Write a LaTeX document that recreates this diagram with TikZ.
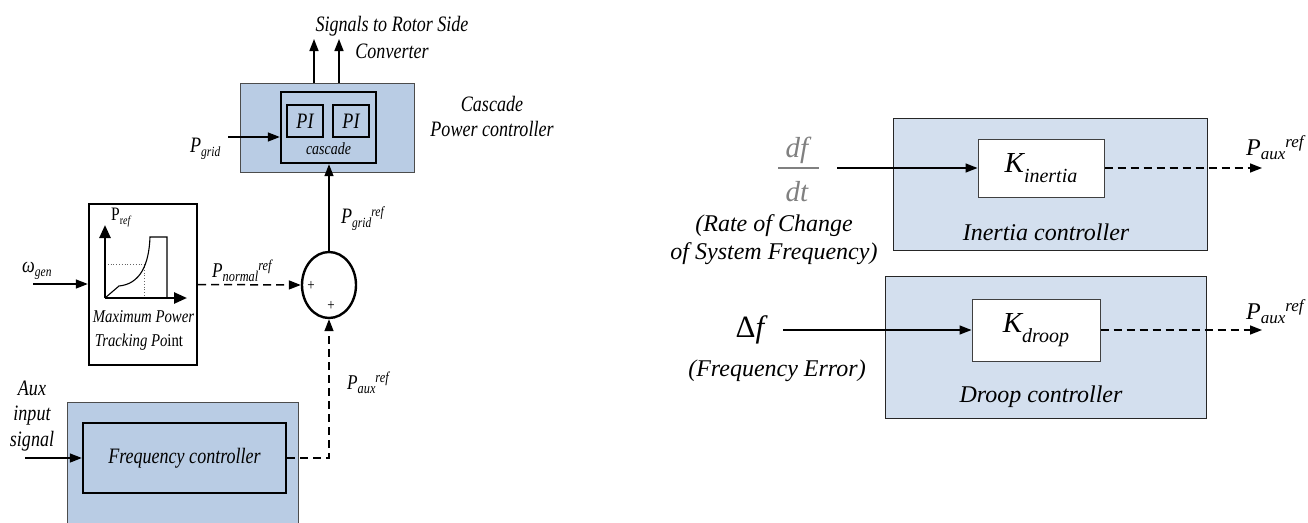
\documentclass[tikz,border=0pt]{standalone}
\usepackage{fontspec}
\setmainfont{Liberation Serif}[ItalicFont={Liberation Serif Italic}]
\newfontfamily\lfont{Liberation Serif}[FakeStretch=0.82, ItalicFont={Liberation Serif Italic}]
\usetikzlibrary{arrows.meta,shapes.geometric,calc}
\newcommand\fsz[1]{\fontsize{#1}{#1}\selectfont}
\newcommand\sig[5]{{\fsz{#1}#2\raisebox{-0.2em}{\fsz{#5}#3}\raisebox{0.3em}{\fsz{#5}#4}}}
\newcommand\kl[1]{{\fsz{29}K}\raisebox{-10.5pt}{\fsz{20}#1}}
\definecolor{lblue}{HTML}{B9CCE4}
\definecolor{rblue}{HTML}{D3DFEE}
\definecolor{dfgray}{HTML}{808080}
\tikzset{
  outerL/.style={draw=black!70, line width=0.9pt, fill=lblue},
  outerR/.style={draw=black!85, line width=1pt, fill=rblue},
  thickbox/.style={draw=black, line width=2.4pt},
  pibox/.style={thickbox, minimum width=36pt, minimum height=32pt, inner sep=0pt, font=\lfont\itshape\fsz{22}},
  kbox/.style={draw=black!75, line width=1pt, fill=white, inner sep=0pt, font=\itshape},
  arr/.style={line width=1.5pt, -{Triangle[length=12pt,width=9pt]}},
  darr/.style={arr, dash pattern=on 8pt off 5pt},
  axisarr/.style={line width=2.5pt, -{Triangle[length=13pt,width=11pt]}},
  ltxt/.style={inner sep=0pt, font=\lfont\itshape\fsz{22}},
  rtxt/.style={inner sep=0pt, font=\itshape\fsz{24}},
}
\begin{document}
\begin{tikzpicture}[x=1pt,y=-1pt]
\useasboundingbox[fill=white] (0,0) rectangle (1308,522);

% ---------- cascade power controller ----------
\node[outerL, minimum width=174pt, minimum height=89pt] (casc) at (327,127.5) {};
\node[thickbox, minimum width=95pt, minimum height=71pt] (cin) at (328.5,127.5) {};
\node[pibox] (pi1) at (305,121) {PI};
\node[pibox] (pi2) at (351,121) {PI};
\node[ltxt, font=\lfont\itshape\fsz{17}] (casctxt) at (328.5,149) {cascade};
\coordinate (s1) at (314,39);
\coordinate (s2) at (339,39);
\draw[arr] (casc.north -| s1) -- (s1);
\draw[arr] (casc.north -| s2) -- (s2);
\node[ltxt, align=center, font=\lfont\itshape\fontsize{22}{27}\selectfont] (sigtxt) at (392,37) {Signals to Rotor Side\\Converter};
\node[ltxt, align=center, font=\lfont\itshape\fontsize{22}{25}\selectfont] (casclbl) at (492,116) {Cascade\\Power controller};
\node[ltxt, anchor=base west] (pgl) at (190,152) {\sig{22}{P}{grid}{}{14}};
\coordinate (pgs) at (228,137);
\draw[arr] (pgs) -- (pgs -| cin.west);

% ---------- summing junction ----------
\node[ellipse, thickbox, minimum width=54pt, minimum height=66pt, inner sep=0pt] (sum) at (329,285) {};
\node[inner sep=0pt, font=\lfont\fsz{16}] (plus1) at (311,286) {+};
\node[inner sep=0pt, font=\lfont\fsz{16}] (plus2) at (331,306) {+};
\draw[arr] (sum.north) -- (sum.north |- cin.south);
\node[ltxt, anchor=base west] (pgrl) at (341,223) {\sig{22}{P}{grid}{ref}{14}};

% ---------- MPPT ----------
\node[thickbox, fill=white, minimum width=108pt, minimum height=161pt] (mppt) at (143,284.5) {};
\coordinate (org) at (105,298);
\coordinate (ytip) at (105,225);
\coordinate (xtip) at (187,298);
\draw[dotted, line width=0.8pt, black!60] (105,264) -- (144,264) -- (144,298);
\draw[line width=1.1pt] (org) -- (119,286) .. controls (140,284) and (149,265) .. (150,237) -- (167,237) -- (167,298);
\draw[axisarr] (org) -- (ytip);
\draw[axisarr] (org) -- (xtip);
\node[inner sep=0pt, anchor=base west, font=\lfont\fsz{19}] (prefl) at (111,220) {P\raisebox{-0.25em}{\fsz{12}r\itshape ef}};
\node[ltxt, font=\lfont\itshape\fsz{18}] (mp1) at (143.5,317) {Maximum Power};
\node[ltxt, font=\lfont\itshape\fsz{18}] (mp2) at (139,342) {Tracking Po\upshape int};
\node[ltxt, anchor=base west] (wl) at (22,272) {\sig{22}{ω}{gen}{}{14}};
\coordinate (wst) at (33,284);
\draw[arr] (wst) -- (wst -| mppt.west);
\draw[darr] (mppt.east) -- (sum.west);
\node[ltxt, anchor=base west] (pnl) at (212,277) {\sig{21}{P}{normal}{ref}{15}};

% ---------- frequency controller ----------
\path[outerL] (67,526) -- (67,402) -- (298,402) -- (298,526);
\node[thickbox, minimum width=203pt, minimum height=70pt, font=\lfont\itshape\fsz{22}] (fc) at (184.5,458) {Frequency controller};
\node[ltxt, align=center, font=\lfont\itshape\fontsize{22}{25.5}\selectfont] (auxl) at (32,416) {Aux\\input\\signal};
\coordinate (ast) at (25,458);
\draw[arr] (ast) -- (fc.west);
\draw[darr] (fc.east) -- (fc.east -| sum.south) -- (sum.south);
\node[ltxt, anchor=base west] (pal) at (347,389) {\sig{21}{P}{aux}{ref}{15}};

% ---------- inertia controller ----------
\node[outerR, minimum width=314pt, minimum height=132pt] (ib) at (1050,184) {};
\node[kbox, minimum width=126pt, minimum height=58pt] (kin) at (1041,168) {\kl{inertia}};
\node[rtxt] (ibl) at (1046,232) {Inertia controller};
\node[inner sep=0pt, font=\itshape\fsz{29}, text=dfgray] (dfn) at (797,150) {df};
\node[inner sep=0pt, font=\itshape\fsz{29}, text=dfgray] (dtn) at (797,192) {dt};
\draw[dfgray, line width=1.6pt] (778,168) -- (819,168);
\coordinate (dfs) at (837,168);
\draw[arr] (dfs) -- (kin.west);
\node[rtxt, align=center, font=\itshape\fontsize{24}{28}\selectfont] (roc) at (774,240) {(Rate of Change\\of System Frequency)};
\coordinate (po1) at (1262,168);
\draw[darr] (kin.east) -- (po1);
\node[rtxt, anchor=base west] (pal1) at (1246,155) {\sig{24}{P}{aux}{ref}{17}};

% ---------- droop controller ----------
\node[outerR, minimum width=321pt, minimum height=142pt] (db) at (1045.5,347) {};
\node[kbox, minimum width=128pt, minimum height=62pt] (kdr) at (1036,330) {\kl{droop}};
\node[rtxt] (dbl) at (1041,397) {Droop controller};
\node[inner sep=0pt, font=\itshape\fsz{31}] (delf) at (750,330) {{\upshape Δ}f};
\coordinate (dfst) at (783,330);
\draw[arr] (dfst) -- (kdr.west);
\node[rtxt] (fel) at (777,371) {(Frequency Error)};
\coordinate (po2) at (1262,330);
\draw[darr] (kdr.east) -- (po2);
\node[rtxt, anchor=base west] (pal2) at (1246,319) {\sig{24}{P}{aux}{ref}{17}};
\end{tikzpicture}
\end{document}
